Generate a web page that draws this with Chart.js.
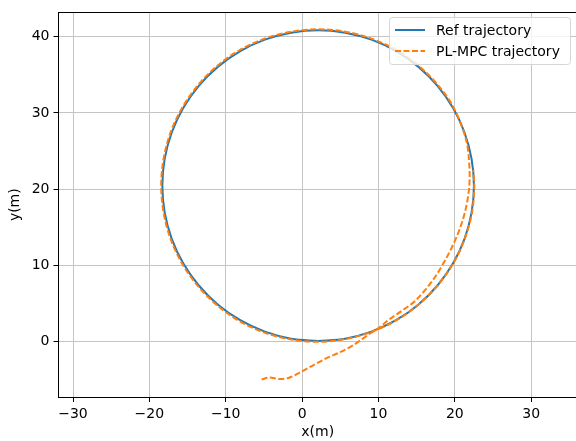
<!DOCTYPE html>
<html>
<head>
<meta charset="utf-8">
<script src="https://cdn.jsdelivr.net/npm/chart.js@4/dist/chart.umd.min.js"></script>
<style>
  html, body { margin: 0; padding: 0; background: #fff; overflow: hidden; }
  #wrap { position: absolute; left: 0; top: 0; width: 600px; height: 441px; }
</style>
</head>
<body>
<div id="wrap"><canvas id="mainChart" width="600" height="441"></canvas></div>
<script>
// reference circle (starts at the bottom, goes counter-clockwise)
const refX = [2.1, 5.64, 9.08, 12.3, 15.21, 17.73, 19.77, 21.27, 22.19, 22.5, 22.19, 21.27, 19.77, 17.73, 15.21, 12.3, 9.08, 5.64,
    2.1, -1.44, -4.88, -8.1, -11.01, -13.53, -15.57, -17.07, -17.99, -18.3, -17.99, -17.07, -15.57, -13.53, -11.01, -8.1, -4.88, -1.44, 2.1];
const refY = [0.05, 0.36, 1.28, 2.78, 4.82, 7.34, 10.25, 13.47, 16.91, 20.45, 23.99, 27.43, 30.65, 33.56, 36.08, 38.12, 39.62, 40.54,
    40.85, 40.54, 39.62, 38.12, 36.08, 33.56, 30.65, 27.43, 23.99, 20.45, 16.91, 13.47, 10.25, 7.34, 4.82, 2.78, 1.28, 0.36, 0.05];

// PL-MPC trajectory: approach from lower left, runs just inside the circle, then one lap on it
const mpcX = [-5.3, -4.3, -3.0, -1.8, -0.3, 1.5, 3.2, 5.0, 6.7, 8.0, 9.0, 10.0, 11.5, 13.1, 14.8, 17.04, 18.81, 20.28, 21.35, 21.9, 21.85, 21.41,
    19.85, 17.8, 15.28, 12.35, 9.1, 5.65, 2.1, -1.45, -4.92, -8.17, -11.1, -13.63, -15.68, -17.2, -18.13, -18.45, -18.13, -17.2, -15.68,
    -13.63, -11.1, -8.17, -4.92, -1.45, 2.1, 5.64, 9.08, 12.3, 15.21, 17.73, 19.8, 21.3, 22.25, 22.55, 22.4];
const mpcY = [-5.0, -4.75, -4.95, -4.8, -4.1, -3.1, -2.2, -1.4, -0.5, 0.4, 1.1, 1.75, 2.95, 4.05, 5.32, 7.92, 10.8, 13.83, 17.06, 20.45, 23.93, 26.72,
    30.7, 33.65, 36.18, 38.25, 39.75, 40.67, 40.98, 40.66, 39.75, 38.25, 36.2, 33.65, 30.72, 27.5, 24.03, 20.45, 16.87, 13.4, 10.17,
    7.25, 4.72, 2.65, 1.15, 0.25, -0.05, 0.3, 1.25, 2.75, 4.8, 7.33, 10.25, 13.47, 16.9, 20.45, 22.5];

const xTicks = [-30, -20, -10, 0, 10, 20, 30];
const yTicks = [0, 10, 20, 30, 40];
const seriesLabels = ['Ref trajectory', 'PL-MPC trajectory'];

const FONT = 'DejaVu Sans';

function toPoints(xs, ys) {
    return xs.map((x, i) => ({x: x, y: ys[i]}));
}

function fmt(v) {
    return v < 0 ? '\u2212' + Math.abs(v) : String(v);
}

// top spine plus a matplotlib style legend box in the upper right corner
const boxLegend = {
    id: 'boxLegend',
    afterDatasetsDraw(chart) {
        const ctx = chart.ctx;
        const area = chart.chartArea;
        ctx.save();
        ctx.beginPath();
        ctx.strokeStyle = '#000';
        ctx.lineWidth = 1;
        ctx.moveTo(area.left, Math.round(area.top) + 0.5);
        ctx.lineTo(area.right, Math.round(area.top) + 0.5);
        ctx.stroke();

        const x0 = 389.5, y0 = 17.5, w = 181, h = 47;
        ctx.beginPath();
        ctx.roundRect(x0, y0, w, h, 3);
        ctx.fillStyle = 'rgba(255,255,255,0.8)';
        ctx.fill();
        ctx.strokeStyle = '#d6d6d6';
        ctx.stroke();
        ctx.font = '14px ' + FONT;
        ctx.textBaseline = 'middle';
        chart.data.datasets.forEach((ds, i) => {
            const yy = 30 + i * 21;
            ctx.beginPath();
            ctx.setLineDash(ds.borderDash || []);
            ctx.strokeStyle = ds.borderColor;
            ctx.lineWidth = ds.borderWidth;
            ctx.moveTo(395, yy);
            ctx.lineTo(425, yy);
            ctx.stroke();
            ctx.setLineDash([]);
            ctx.fillStyle = '#000';
            ctx.fillText(ds.label, 436, yy + 1);
        });
        ctx.restore();
    }
};

function setupCanvas() {
    const ctx = document.getElementById('mainChart').getContext('2d');
    const data = {
        datasets: [
            {
                label: seriesLabels[0],
                data: toPoints(refX, refY),
                borderColor: '#1f77b4',
                borderWidth: 2,
                order: 2
            },
            {
                label: seriesLabels[1],
                data: toPoints(mpcX, mpcY),
                borderColor: '#ff7f0e',
                borderWidth: 2,
                borderDash: [6, 2.5],
                order: 1
            }
        ]
    };
    const gridStyle = {
        color: '#c4c4c4',
        lineWidth: 1,
        tickLength: 5,
        tickColor: '#000',
        drawTicks: true
    };
    const config = {
        type: 'scatter',
        data: data,
        options: {
            responsive: false,
            animation: false,
            showLine: true,
            elements: {
                point: {radius: 0},
                line: {tension: 0.33, fill: false}
            },
            layout: {padding: {top: 11, right: 23, left: 0, bottom: 0}},
            scales: {
                x: {
                    type: 'linear',
                    min: -31.9,
                    max: 36,
                    afterBuildTicks: (axis) => { axis.ticks = xTicks.map(v => ({value: v})); },
                    afterFit: (scale) => { scale.height = 44; },
                    grid: gridStyle,
                    border: {color: '#000', width: 1},
                    ticks: {
                        color: '#000',
                        font: {family: FONT, size: 14},
                        padding: 4,
                        maxRotation: 0,
                        callback: (v) => fmt(v)
                    },
                    title: {
                        display: true,
                        text: 'x(m)',
                        color: '#000',
                        font: {family: FONT, size: 14},
                        padding: {top: 0, bottom: 0}
                    }
                },
                y: {
                    type: 'linear',
                    min: -7.3,
                    max: 43.2,
                    afterBuildTicks: (axis) => { axis.ticks = yTicks.map(v => ({value: v})); },
                    afterFit: (scale) => { scale.width = 58.5; },
                    grid: gridStyle,
                    border: {color: '#000', width: 1},
                    ticks: {
                        color: '#000',
                        font: {family: FONT, size: 14},
                        padding: 4,
                        callback: (v) => fmt(v)
                    },
                    title: {
                        display: true,
                        text: 'y(m)',
                        color: '#000',
                        font: {family: FONT, size: 14},
                        padding: {top: 7, bottom: 0}
                    }
                }
            },
            plugins: {
                legend: {display: false},
                tooltip: {enabled: false}
            }
        },
        plugins: [boxLegend]
    };
    return new Chart(ctx, config);
}

const mainChart = setupCanvas();
</script>
</body>
</html>
